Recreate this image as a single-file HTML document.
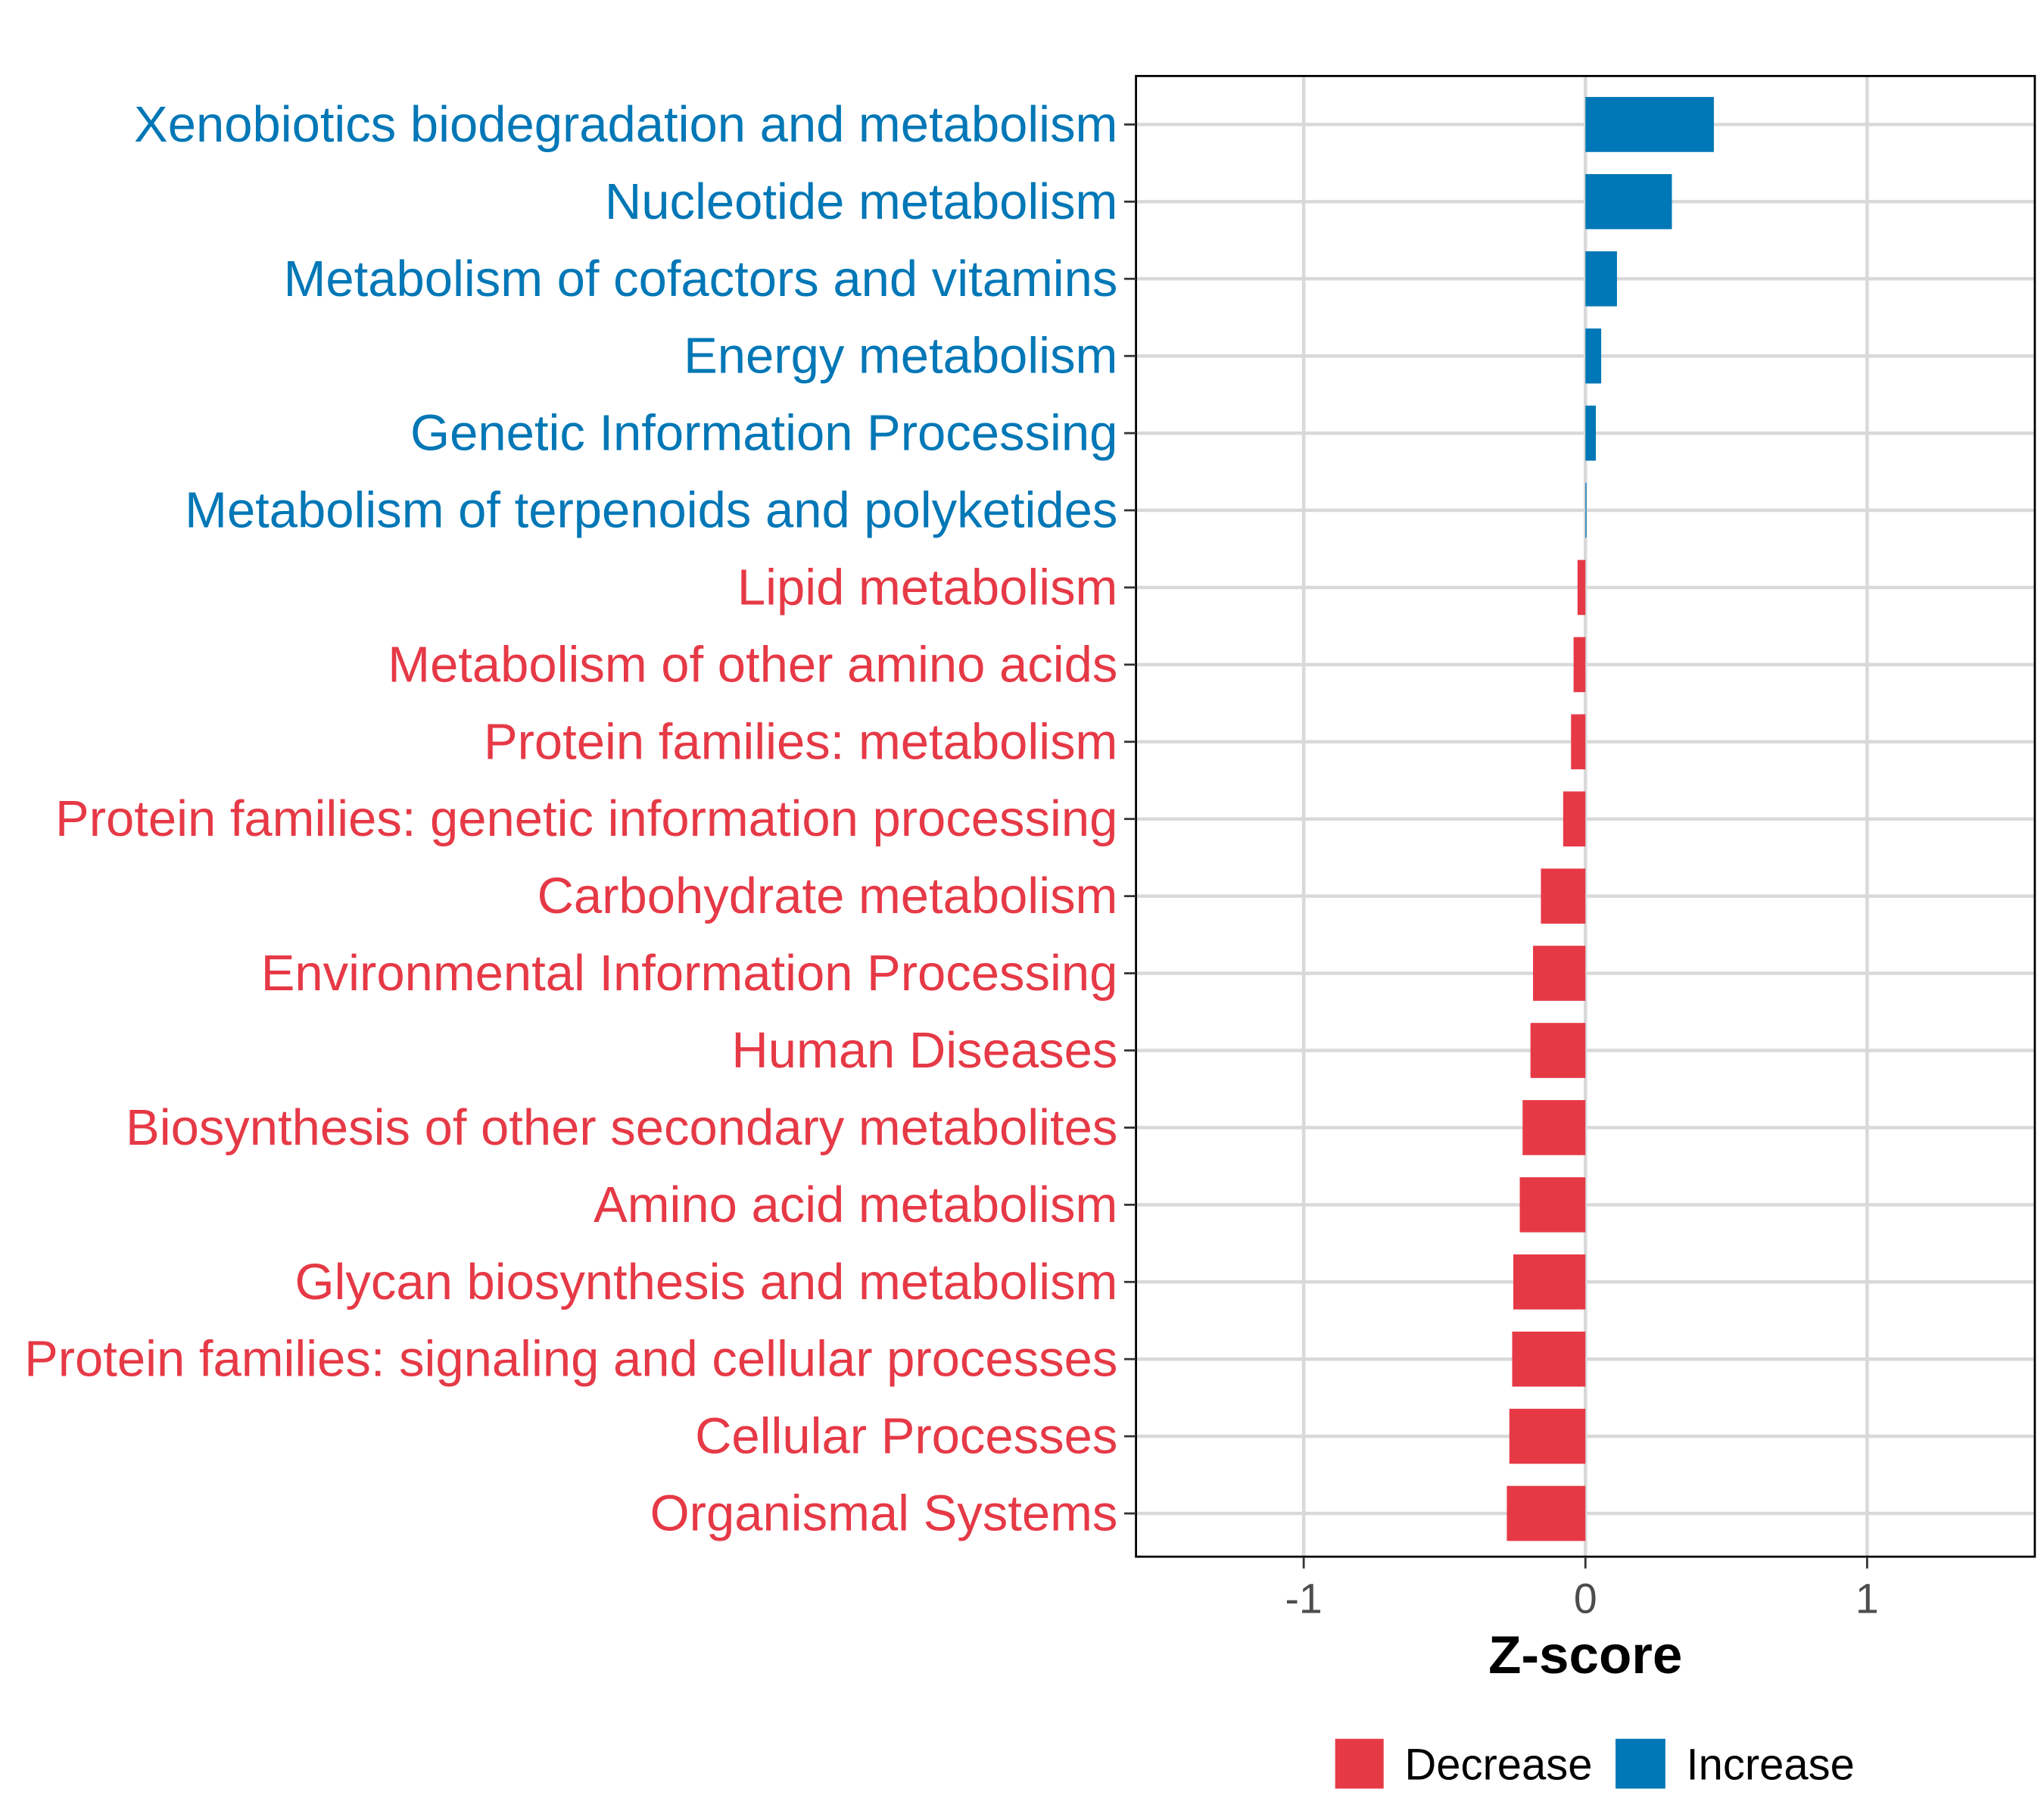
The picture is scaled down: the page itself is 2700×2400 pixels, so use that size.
<!DOCTYPE html>
<html><head><meta charset="utf-8"><style>html,body{margin:0;padding:0;background:#fff}svg{display:block}</style></head>
<body>
<svg id="chart" width="2700" height="2400" viewBox="0 0 1560 1386.67" preserveAspectRatio="none" xmlns="http://www.w3.org/2000/svg" font-family="Liberation Sans, Arial, sans-serif">
<g id="grid"></g>
<g id="bars"></g>
<rect x="867" y="58" width="686" height="1130" fill="none" stroke="#000" stroke-width="1.6"/>
<g id="ylab"></g>
<g id="xax"></g>
<text x="1210" y="1277" text-anchor="middle" font-size="41" font-weight="bold">Z-score</text>
<g>
<rect x="1019" y="1327" width="37" height="38" fill="#E63946"/>
<text x="1072" y="1358" font-size="33.5">Decrease</text>
<rect x="1233" y="1327" width="38" height="38" fill="#0077B6"/>
<text x="1287" y="1358" font-size="33.5">Increase</text>
</g>
</svg>
<script>
const categories=["Xenobiotics biodegradation and metabolism","Nucleotide metabolism","Metabolism of cofactors and vitamins","Energy metabolism","Genetic Information Processing","Metabolism of terpenoids and polyketides","Lipid metabolism","Metabolism of other amino acids","Protein families: metabolism","Protein families: genetic information processing","Carbohydrate metabolism","Environmental Information Processing","Human Diseases","Biosynthesis of other secondary metabolites","Amino acid metabolism","Glycan biosynthesis and metabolism","Protein families: signaling and cellular processes","Cellular Processes","Organismal Systems"];
const zscores=[0.456,0.307,0.112,0.056,0.037,0.003,-0.028,-0.042,-0.051,-0.079,-0.158,-0.186,-0.195,-0.223,-0.233,-0.256,-0.26,-0.27,-0.279];
const xTicks=[-1,0,1];
const xTickLabels=["-1","0","1"];
const NS="http://www.w3.org/2000/svg";
const xs=v=>1210+v*215;
const ys=i=>95+i*(1155-95)/(categories.length-1);
function mk(t,a,p){const e=document.createElementNS(NS,t);for(const k in a)e.setAttribute(k,a[k]);p.appendChild(e);return e;}
const grid=document.getElementById('grid'),bars=document.getElementById('bars'),ylab=document.getElementById('ylab'),xax=document.getElementById('xax');
categories.forEach((c,i)=>{
 const y=ys(i);
 const g=mk('line',{x1:867,x2:1553,y1:y,y2:y,stroke:'#d9d9d9','stroke-width':2.6},grid);
 
 
 const v=zscores[i],col=v>=0?'#0077B6':'#E63946';
 const r=mk('rect',{x:Math.min(xs(0),xs(v)),y:y-21,width:Math.max(Math.abs(xs(v)-xs(0)),0.8),height:42,fill:col},bars);
 
 
 const tk=mk('line',{x1:858,x2:867,y1:y,y2:y,stroke:'#333','stroke-width':1.6},ylab);
 
 
 const t=mk('text',{x:853,y:y+13,'text-anchor':'end','font-size':38.7,fill:col},ylab);
 t.textContent=c;
 
 
});
xTicks.forEach((v,i)=>{
 const x=xs(v);
 const g=mk('line',{x1:x,x2:x,y1:58,y2:1188,stroke:'#d9d9d9','stroke-width':2.6},grid);
 
 
 const tk=mk('line',{x1:x,x2:x,y1:1188,y2:1197,stroke:'#333','stroke-width':1.6},xax);
 
 
 const t=mk('text',{x:x,y:1231,'text-anchor':'middle','font-size':32,fill:'#4d4d4d'},xax);
 t.textContent=xTickLabels[i];
 
 
});
</script>
</body></html>
